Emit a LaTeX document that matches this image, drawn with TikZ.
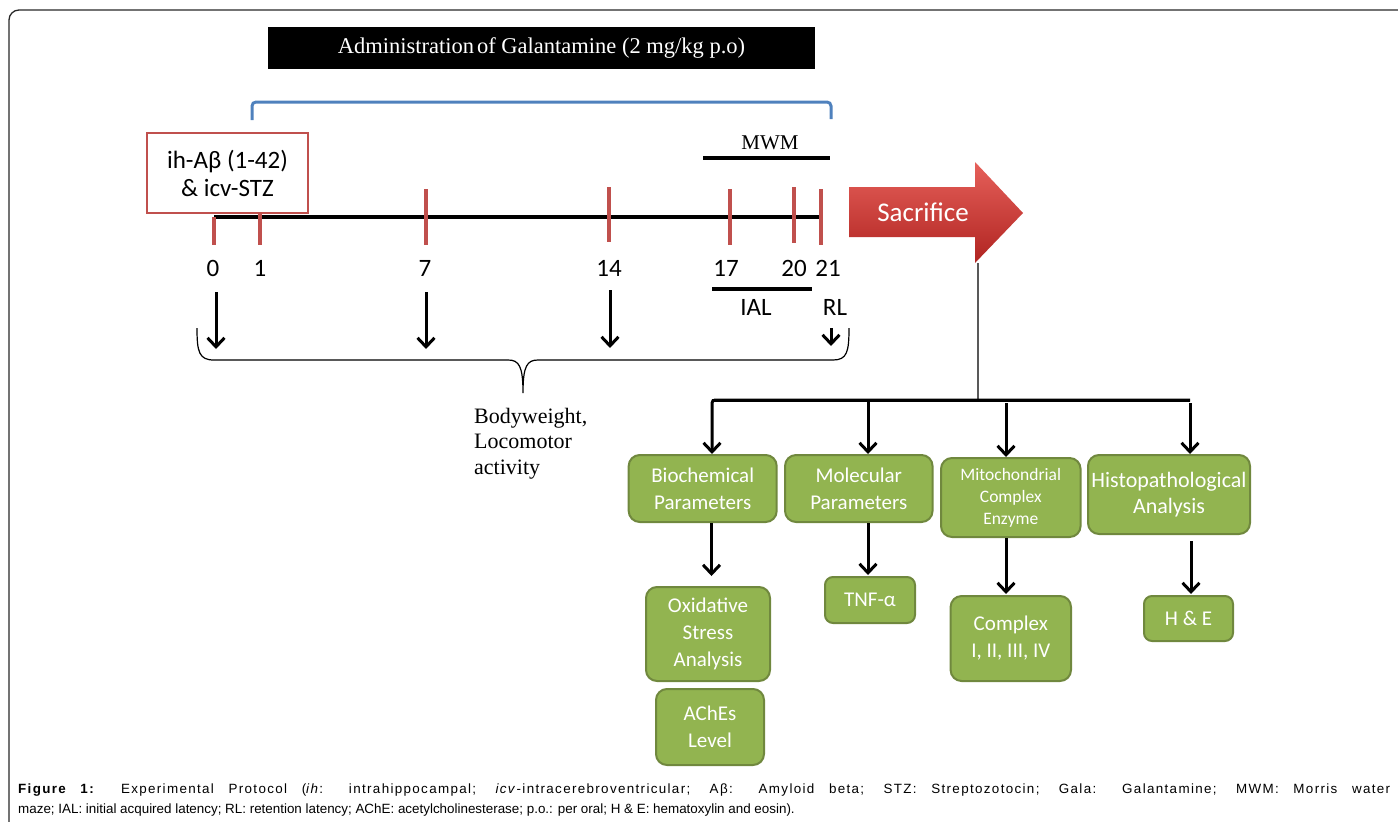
\documentclass[tikz,border=0pt]{standalone}
\usepackage{fontspec}
\setmainfont{Liberation Serif}
\newfontfamily\cfont{Carlito}
\newfontfamily\afont{Liberation Sans}
\newfontfamily\afontwide[LetterSpace=10]{Liberation Sans}
\usetikzlibrary{arrows.meta}
\definecolor{tickred}{RGB}{192,80,77}
\definecolor{bracketblue}{RGB}{79,129,189}
\definecolor{gfill}{RGB}{146,180,80}
\definecolor{gdraw}{RGB}{112,136,62}
\definecolor{sacA}{RGB}{230,96,90}
\definecolor{sacB}{RGB}{176,36,33}
\definecolor{framec}{RGB}{40,40,40}
\begin{document}
\begin{tikzpicture}[x=1pt,y=-1pt,
  gbox/.style={draw=gdraw, line width=2pt, fill=gfill, rounded corners=11pt, text=white, align=center, inner sep=0pt, font=\cfont\fontsize{21}{27}\selectfont},
  arr/.style={line width=3pt, -{Straight Barb[length=9pt,width=17pt]}},
  tickmark/.style={draw=tickred, line width=3.5pt},
  lab/.style={font=\cfont\fontsize{25}{30}\selectfont, inner sep=0pt},
  serif/.style={font=\fontsize{21}{25.5}\selectfont, inner sep=0pt},
  thick line/.style={line width=4pt}
]
\useasboundingbox (0,0) rectangle (1398,822);
% frame
\draw[framec, line width=1.3pt, rounded corners=10pt] (9,822) -- (9,10) -- (1398,10);

% title box
\node[fill=black, minimum width=547pt, minimum height=42pt, inner sep=0pt, text=white, font=\fontsize{22.5}{26}\selectfont] (title) at (541.5,48) {Administration\hspace{3pt}of Galantamine (2 mg/kg p.o)};

% blue bracket
\draw[bracketblue, line width=3pt, rounded corners=4pt] (252,120) -- (252,102) -- (831,102) -- (831,119);

% MWM
\node[serif] (mwm) at (770,143) {MWM};
\draw[thick line] (703,158) -- (830,158);

% timeline
\coordinate (t0) at (214,217);
\coordinate (t21) at (821,217);
\draw[line width=4.5pt] (t0) -- (t21);
\draw[tickmark] (214,217) -- (214,245);
\draw[tickmark] (260,213) -- (260,245);
\draw[tickmark] (426,189) -- (426,245);
\draw[tickmark] (609,187) -- (609,242);
\draw[tickmark] (730,189) -- (730,245);
\draw[tickmark] (794,187) -- (794,243);
\draw[tickmark] (821,189) -- (821,245);

% injection box
\node[draw=tickred, line width=2.5pt, fill=white, minimum width=161pt, minimum height=80pt, inner sep=0pt, align=center, font=\cfont\fontsize{25}{28}\selectfont] (inj) at (227.5,173) {ih-Aβ (1-42)\\\& icv-STZ};

% labels
\node[lab] (l0) at (213,268) {0};
\node[lab] (l1) at (260,268) {1};
\node[lab] (l7) at (425,268) {7};
\node[lab] (l14) at (609,268) {14};
\node[lab] (l17) at (726,268) {17};
\node[lab] (l20) at (794,268) {20};
\node[lab] (l21) at (828,268) {21};
\draw[thick line] (712,289) -- (812,289);
\node[lab] (ial) at (756,307) {IAL};
\node[lab] (rl) at (835,307) {RL};

% down arrows
\draw[arr] (216,292) -- (216,349);
\draw[arr] (426,292) -- (426,349);
\draw[arr] (610,290) -- (610,348);
\draw[arr] (831,328) -- (831,346);

% brace
\draw[line width=1.2pt] (197,328) .. controls (197,352) and (199,360) .. (214,360) -- (508,360) .. controls (519,360) and (523,366) .. (523,393) .. controls (523,366) and (527,360) .. (538,360) -- (833,360) .. controls (847,360) and (849,352) .. (849,328);
\node[serif, font=\fontsize{22}{25.5}\selectfont, align=left, anchor=north west] (bw) at (474,408) {Bodyweight,\\Locomotor\\activity};

% sacrifice arrow
\shade[top color=sacA, bottom color=sacB] (849,187) -- (975,187) -- (975,162) -- (1023,213) -- (975,263) -- (975,237) -- (849,237) -- cycle;
\node[text=white, font=\cfont\fontsize{27}{30}\selectfont, inner sep=0pt] (sac) at (923,212) {Sacrifice};
\coordinate (sacbot) at (978,263);
\coordinate (hub) at (978,400);
\draw[black!65, line width=1.5pt] (sacbot) -- (hub);

% green boxes
\node[gbox, minimum width=148pt, minimum height=67pt] (bio) at (702.7,488.5) {Biochemical\\Parameters};
\node[gbox, minimum width=147.5pt, minimum height=67pt] (mol) at (858.8,488.5) {Molecular\\Parameters};
\node[gbox, minimum width=139.6pt, minimum height=79pt, font=\cfont\fontsize{17.5}{22}\selectfont] (mito) at (1010.8,497.5) {Mitochondrial\\Complex\\Enzyme};
\node[gbox, minimum width=162pt, minimum height=79pt, font=\cfont\fontsize{22}{26}\selectfont] (histo) at (1169,494.5) {Histopathological\\Analysis};
\node[gbox, minimum width=124pt, minimum height=94pt] (ox) at (708,634) {Oxidative\\Stress\\Analysis};
\node[gbox, minimum width=108pt, minimum height=76pt] (ache) at (710,727) {AChEs\\Level};
\node[gbox, minimum width=90pt, minimum height=46pt, rounded corners=8pt] (tnf) at (870,600) {TNF-α};
\node[gbox, minimum width=120.4pt, minimum height=85pt] (cplx) at (1010.8,638.5) {Complex\\I, II, III, IV};
\node[gbox, minimum width=89pt, minimum height=45pt, rounded corners=8pt] (he) at (1188.5,618.5) {H \& E};

% distribution
\coordinate (d1) at (712,400);
\coordinate (d2) at (868,400);
\coordinate (d3) at (1006,403);
\coordinate (d4) at (1190,403);
\draw[line width=3pt] (d1) -- (1190,400);
\draw[arr, rounded corners=3pt] (1190,400) -- (d1) -- (d1 |- bio.north);
\draw[arr] (d2) -- (d2 |- mol.north);
\draw[arr] (d3) -- (d3 |- mito.north);
\draw[arr] (d4) -- (d4 |- histo.north);

% sub arrows
\draw[arr, shorten >=10pt] (bio.south -| 711.5,0) -- (ox.north -| 711.5,0);
\draw[arr, shorten >=1pt] (mol.south -| 868,0) -- (tnf.north -| 868,0);
\draw[arr, shorten >=1pt] (mito.south -| 1006,0) -- (cplx.north -| 1006,0);
\draw[arr, shorten <=6pt, shorten >=1pt] (histo.south -| 1191,0) -- (he.north -| 1191,0);

% caption
\node[anchor=north west, inner sep=0pt, text width=1372pt, align=justify, font=\afont\fontsize{13.4}{20}\selectfont] (cap) at (18,784)
{{\afontwide\textbf{Figure 1:} Experimental Protocol (\textit{ih}: intrahippocampal; \textit{icv}-intracerebroventricular; Aβ: Amyloid beta; STZ: Streptozotocin; Gala: Galantamine; MWM: Morris water}\linebreak maze; IAL: initial acquired latency; RL: retention latency; AChE: acetylcholinesterase; p.o.: per oral; H \& E: hematoxylin and eosin).};
\end{tikzpicture}
\end{document}
